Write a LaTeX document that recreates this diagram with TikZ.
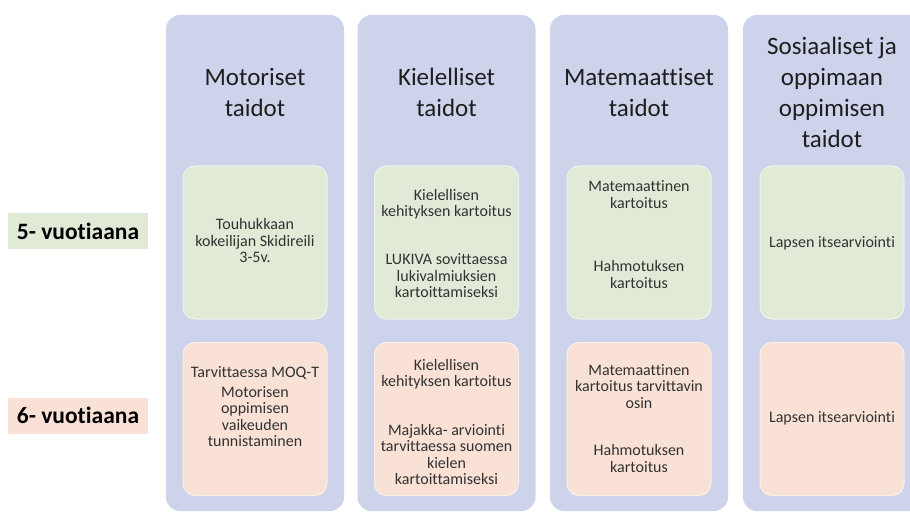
\documentclass[tikz,border=0pt]{standalone}
\usepackage{fontspec}
\setmainfont{Carlito}[RawFeature={-liga;-clig;-calt}]
\definecolor{colblue}{RGB}{205,211,234}
\definecolor{boxgreen}{RGB}{225,234,215}
\definecolor{boxpink}{RGB}{249,225,214}
\definecolor{headtxt}{RGB}{30,30,30}
\definecolor{celltxt}{RGB}{50,50,50}
\tikzset{
  column/.style={fill=colblue,rounded corners=14pt,minimum width=178pt,minimum height=496pt,inner sep=0pt},
  cell/.style={rounded corners=12pt,minimum width=144pt,minimum height=153pt,inner sep=0pt,line width=1pt},
  heading/.style={text=headtxt,font=\fontsize{25}{31}\selectfont,align=center},
  entry/.style={text=celltxt,font=\fontsize{16}{16.5}\selectfont,align=center},
  agelabel/.style={font=\bfseries\fontsize{23.5}{28}\selectfont,minimum width=140pt,minimum height=36pt,inner sep=0pt}
}
\begin{document}
\begin{tikzpicture}[x=1pt,y=-1pt]
	\clip (0,0) rectangle (910,513);
	\fill[white] (0,0) rectangle (910,513);
	\foreach \j/\x/\t in {1/255/{Motoriset\\taidot},2/446.5/{Kielelliset\\taidot},3/639/{Matemaattiset\\taidot},4/832/{Sosiaaliset ja\\oppimaan\\oppimisen\\taidot}} {
		\node[column](col\j) at (\x,263) {};
		\node[heading](head\j) at (\x,92) {\t};
		\node[cell,fill=boxgreen,draw=white!45!boxgreen](g\j) at (\x,242.5) {};
		\node[cell,fill=boxpink,draw=white!45!boxpink](p\j) at (\x,419) {};
	}
	% 5- ja 6-vuotiaat
	\node[agelabel,fill=boxgreen](age5) at (78,231) {5- vuotiaana};
	\node[agelabel,fill=boxpink](age6) at (78,415.5) {6- vuotiaana};
	% motoriset
	\node[entry](g1a) at (255,241) {Touhukkaan\\kokeilijan Skidireili\\3-5v.};
	\node[entry](p1a) at (255,373) {Tarvittaessa MOQ-T};
	\node[entry](p1b) at (255,416.5) {Motorisen\\oppimisen\\vaikeuden\\tunnistaminen};
	% kielelliset
	\node[entry](g2a) at (446.5,204) {Kielellisen\\kehityksen kartoitus};
	\node[entry](g2b) at (446.5,276) {LUKIVA sovittaessa\\lukivalmiuksien\\kartoittamiseksi};
	\node[entry](p2a) at (446.5,374) {Kielellisen\\kehityksen kartoitus};
	\node[entry](p2b) at (446.5,454.5) {Majakka- arviointi\\tarvittaessa suomen\\kielen\\kartoittamiseksi};
	% matemaattiset
	\node[entry](g3a) at (639,194.5) {Matemaattinen\\kartoitus};
	\node[entry](g3b) at (639,274.5) {Hahmotuksen\\kartoitus};
	\node[entry](p3a) at (639,386.5) {Matemaattinen\\kartoitus tarvittavin\\osin};
	\node[entry](p3b) at (639,458.5) {Hahmotuksen\\kartoitus};
	% sosiaaliset
	\node[entry](g4a) at (832,243) {Lapsen itsearviointi};
	\node[entry](p4a) at (832,418) {Lapsen itsearviointi};
\end{tikzpicture}
\end{document}
